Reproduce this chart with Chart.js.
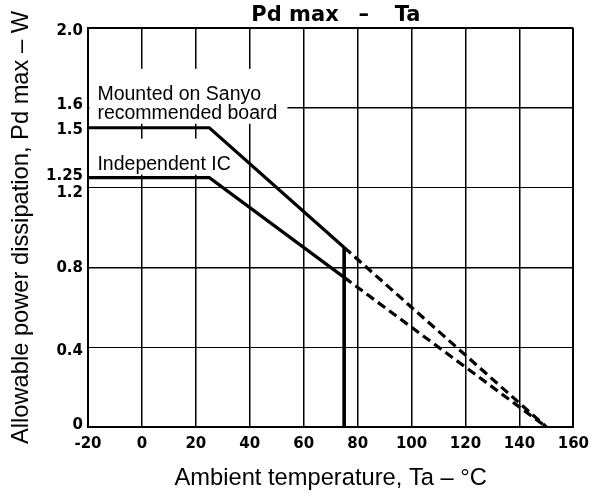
<!DOCTYPE html>
<html>
<head>
<meta charset="utf-8">
<script src="https://cdn.jsdelivr.net/npm/chart.js@4.4.1/dist/chart.umd.min.js"></script>
<style>
  html, body { margin: 0; padding: 0; background: #fff; }
  #wrap { width: 597px; height: 497px; }
</style>
</head>
<body>
<div id="wrap"><canvas id="pdChart"></canvas></div>
<script>
"use strict";

// ? DATA
// ! ========================== ! \\
const tempFlat = [-20, 25, 75];
const pdSanyo = [1.5, 1.5, 0.9];
const pdIndependent = [1.25, 1.25, 0.75];

const tempDerate = [75, 150];
const pdSanyoDerate = [0.9, 0];
const pdIndependentDerate = [0.75, 0];

const tempCutoff = [75, 75];
const pdCutoff = [0.9, 0];

const xTickStep = 20;
const yTickValues = [0, 0.4, 0.8, 1.2, 1.25, 1.5, 1.6, 2.0];
const yTickLabels = ["0", "0.4", "0.8", "1.2", "1.25", "1.5", "1.6", "2.0"];
const yNoGrid = [1.25, 1.5];

const chartTitle = ["Pd max", "–", "Ta"];
const xTitle = "Ambient temperature, Ta – °C";
const yTitle = "Allowable power dissipation, Pd max – W";
const labelSanyo = ["Mounted on Sanyo", "recommended board"];
const labelIndependent = ["Independent IC"];

// label nudges (px) so the crowded y labels sit like the printed sheet
const yLabelShift = [-2, 4, 1, 6, -2, 2, -3, 3];

const toPoints = (xs, ys) => xs.map((x, i) => ({ x: x, y: ys[i] }));

const tickFont = { family: "'DejaVu Sans'", size: 15, weight: "bold" };
const titleFont = { family: "'Liberation Sans', Arial", size: 23.7, weight: "normal" };

// ? PLUGIN : title + curve labels
// ! ========================== ! \\
const textPlugin = {
  id: "pdText",
  beforeDatasetsDraw: (chart) => {
    const { ctx, chartArea, scales } = chart;
    const x = scales.x;
    const y = scales.y;
    ctx.save();
    ctx.font = "19.5px 'Liberation Sans', Arial";
    ctx.textAlign = "left";
    ctx.textBaseline = "alphabetic";

    const drawLabel = (lines, xVal, yVals) => {
      const left = x.getPixelForValue(xVal);
      const widths = lines.map((l) => ctx.measureText(l).width);
      const firstBase = y.getPixelForValue(yVals[0]);
      const lastBase = y.getPixelForValue(yVals[yVals.length - 1]);
      ctx.fillStyle = "#fff";
      ctx.fillRect(left - 8, firstBase - 31, Math.max(...widths) + 18, lastBase - firstBase + 36);
      ctx.fillStyle = "#000";
      lines.forEach((l, i) => ctx.fillText(l, left, y.getPixelForValue(yVals[i])));
    };
    drawLabel(labelSanyo, -16.5, [1.64, 1.545]);
    drawLabel(labelIndependent, -16.5, [1.29]);

    // title
    const cx = (chartArea.left + chartArea.right) / 2;
    ctx.font = "bold 21px 'DejaVu Sans'";
    ctx.fillStyle = "#000";
    ctx.textAlign = "right";
    ctx.fillText(chartTitle[0], cx + 8, 21);
    ctx.textAlign = "center";
    ctx.fillText(chartTitle[1], cx + 33, 21);
    ctx.textAlign = "left";
    ctx.fillText(chartTitle[2], cx + 64, 21);
    ctx.restore();
  },
};

// ? CHART
// ! ========================== ! \\
const solidLine = {
  borderColor: "#000",
  borderWidth: 3.2,
  pointRadius: 0,
  showLine: true,
  fill: false,
  tension: 0,
  clip: false,
};

const config = {
  type: "scatter",
  data: {
    datasets: [
      Object.assign({ label: "Sanyo board", data: toPoints(tempFlat, pdSanyo) }, solidLine),
      Object.assign({ label: "Independent IC", data: toPoints(tempFlat, pdIndependent) }, solidLine),
      Object.assign({ label: "Cutoff", data: toPoints(tempCutoff, pdCutoff) }, solidLine, { borderWidth: 3.6 }),
      Object.assign({ label: "Sanyo derate", data: toPoints(tempDerate, pdSanyoDerate) }, solidLine, { borderDash: [9, 5] }),
      Object.assign({ label: "IC derate", data: toPoints(tempDerate, pdIndependentDerate) }, solidLine, { borderDash: [9, 5] }),
    ],
  },
  options: {
    responsive: true,
    maintainAspectRatio: false,
    devicePixelRatio: 1,
    animation: false,
    layout: { padding: { top: 28, right: 16, left: 0, bottom: 0 } },
    plugins: {
      legend: { display: false },
      title: { display: false },
      tooltip: { enabled: false },
    },
    scales: {
      x: {
        type: "linear",
        min: -20,
        max: 160,
        ticks: { stepSize: xTickStep, color: "#000", font: tickFont, padding: 8, maxRotation: 0 },
        grid: {
          color: "#000",
          lineWidth: (c) => (c.tick && (c.tick.value === 160 || c.tick.value === -20) ? 2 : 1.5),
          drawTicks: false,
        },
        border: { display: true, color: "#000", width: 2 },
        title: { display: true, text: xTitle, color: "#000", font: titleFont, padding: { top: 4, bottom: 4 } },
        afterFit: (scale) => {
          scale.height = 70;
        },
      },
      y: {
        type: "linear",
        min: 0,
        max: 2,
        afterBuildTicks: (scale) => {
          scale.ticks = yTickValues.map((v) => ({ value: v }));
        },
        ticks: {
          color: "#000",
          padding: 5,
          font: (c) => {
            const i = c.tick ? yTickValues.indexOf(c.tick.value) : -1;
            const s = i >= 0 ? Math.abs(yLabelShift[i]) : 0;
            return Object.assign({}, tickFont, s ? { lineHeight: s * 2 + "px" } : {});
          },
          callback: (value) => {
            const i = yTickValues.indexOf(value);
            const s = yLabelShift[i];
            if (s > 0) return ["", yTickLabels[i]];
            if (s < 0) return [yTickLabels[i], ""];
            return yTickLabels[i];
          },
        },
        grid: {
          color: (c) => (c.tick && yNoGrid.includes(c.tick.value) ? "rgba(0,0,0,0)" : "#000"),
          lineWidth: (c) => (c.tick && (c.tick.value === 2 || c.tick.value === 0) ? 2 : c.tick && (c.tick.value === 1.2 || c.tick.value === 0.4) ? 1.1 : 1.5),
          drawTicks: false,
        },
        border: { display: true, color: "#000", width: 2 },
        title: { display: true, text: yTitle, color: "#000", font: titleFont, padding: { top: 7, bottom: 0 } },
        afterFit: (scale) => {
          scale.width = 88;
        },
      },
    },
  },
  plugins: [textPlugin],
};

const ctx = document.getElementById("pdChart").getContext("2d");
const chart = new Chart(ctx, config);
</script>
</body>
</html>
